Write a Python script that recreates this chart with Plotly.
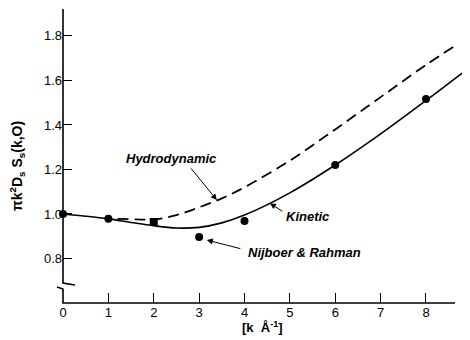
import plotly.graph_objects as go

# ---- data ----
kinetic_k = [0, 0.5, 1, 1.5, 2, 2.5, 3, 3.5, 4, 5, 6, 7, 8, 9]
kinetic_y = [1.0, 0.99, 0.978, 0.962, 0.947, 0.937, 0.94, 0.96, 0.995, 1.095, 1.22, 1.36, 1.51, 1.665]

hydro_k = [1.2, 1.6, 2, 2.5, 3, 3.5, 4, 5, 6, 7, 8, 8.6]
hydro_y = [0.978, 0.976, 0.975, 0.995, 1.03, 1.07, 1.12, 1.24, 1.38, 1.525, 1.67, 1.75]

md_k = [0, 1, 2, 3, 4, 6, 8]
md_y = [1.0, 0.978, 0.964, 0.897, 0.969, 1.22, 1.517]
md_symbols = ["circle", "circle", "square", "circle", "circle", "circle", "circle"]

x_ticks = [0, 1, 2, 3, 4, 5, 6, 7, 8]
y_ticks = [0.8, 1.0, 1.2, 1.4, 1.6, 1.8]
y_ticklabels = ["0.8", "1.0", "1.2", "1.4", "1.6", "1.8"]

FONT = "Liberation Sans, Arial, sans-serif"

fig = go.Figure()
fig.add_trace(go.Scatter(x=kinetic_k, y=kinetic_y, mode="lines",
                         line=dict(color="black", width=1.6, shape="spline"),
                         showlegend=False, hoverinfo="skip"))
fig.add_trace(go.Scatter(x=hydro_k, y=hydro_y, mode="lines",
                         line=dict(color="black", width=1.8, shape="spline", dash="11px,6px"),
                         showlegend=False, hoverinfo="skip"))
fig.add_trace(go.Scatter(x=md_k, y=md_y, mode="markers",
                         marker=dict(color="black", size=8, symbol=md_symbols),
                         showlegend=False, cliponaxis=False))

# plot area in screen pixels: x 63..470, y 9..303
def px2paper(px, py):
    return (px - 63) / 407.0, (303 - py) / 294.0

lines = [
    [(63, 9), (63, 283), (75, 285)],
    [(57, 287), (63, 289), (63, 303), (455, 303)],
]
for seg in lines:
    pts = [px2paper(*p) for p in seg]
    path = "M " + " L ".join(f"{x:.4f},{y:.4f}" for x, y in pts)
    fig.add_shape(type="path", path=path, xref="paper", yref="paper",
                  line=dict(color="black", width=1.6))

fig.update_xaxes(range=[0, 8.97], showgrid=False, zeroline=False, showline=False,
                 tickmode="array", tickvals=x_ticks, ticks="inside", ticklen=10,
                 tickwidth=1.2, tickcolor="black",
                 tickfont=dict(family=FONT, size=13, color="black"))
fig.update_yaxes(range=[0.6, 1.921], showgrid=False, zeroline=False, showline=False,
                 tickmode="array", tickvals=y_ticks, ticktext=y_ticklabels,
                 ticks="inside", ticklen=9, tickwidth=1.2, tickcolor="black",
                 tickfont=dict(family=FONT, size=13, color="black"))

lab_font = dict(family=FONT, size=13, color="black")
annos = [
    ("<b><i>Hydrodynamic</i></b>", 171, 158),
    ("<b><i>Kinetic</i></b>", 308, 216),
    ("<b><i>Nijboer &amp; Rahman</i></b>", 304, 252),
]
for text, px, py in annos:
    xp, yp = px2paper(px, py)
    fig.add_annotation(x=xp, y=yp, xref="paper", yref="paper", text=text,
                       showarrow=False, font=lab_font, xanchor="center", yanchor="middle")

# arrows (head in data coords, tail offset in px)
arrows = [
    (3.39, 1.063, -27, -33),
    (4.56, 1.048, 14, 9),
    (3.17, 0.883, 35, 9),
]
for hx, hy, ax, ay in arrows:
    fig.add_annotation(x=hx, y=hy, xref="x", yref="y", ax=ax, ay=ay, text="",
                       showarrow=True, arrowhead=2, arrowsize=1.2, arrowwidth=1,
                       arrowcolor="black")

# axis titles
xp, yp = px2paper(17, 166)
fig.add_annotation(x=xp, y=yp, xref="paper", yref="paper", textangle=-90,
                   xanchor="center", yanchor="middle",
                   text="<b>πk<sup>2</sup>D<sub>s</sub> S<sub>s</sub>(k,O)</b>",
                   showarrow=False, font=dict(family=FONT, size=14, color="black"))
xp, yp = px2paper(262, 327)
fig.add_annotation(x=xp, y=yp, xref="paper", yref="paper",
                   xanchor="center", yanchor="middle",
                   text="<b>[k  Å<sup>-1</sup>]</b>",
                   showarrow=False, font=dict(family=FONT, size=13, color="black"))

# the page adds an 8px body margin, so the figure is offset by (8, 8)
fig.update_layout(width=462, height=332, margin=dict(l=55, r=0, t=1, b=37),
                  plot_bgcolor="white", paper_bgcolor="white", showlegend=False)

fig.write_html("out.html")
